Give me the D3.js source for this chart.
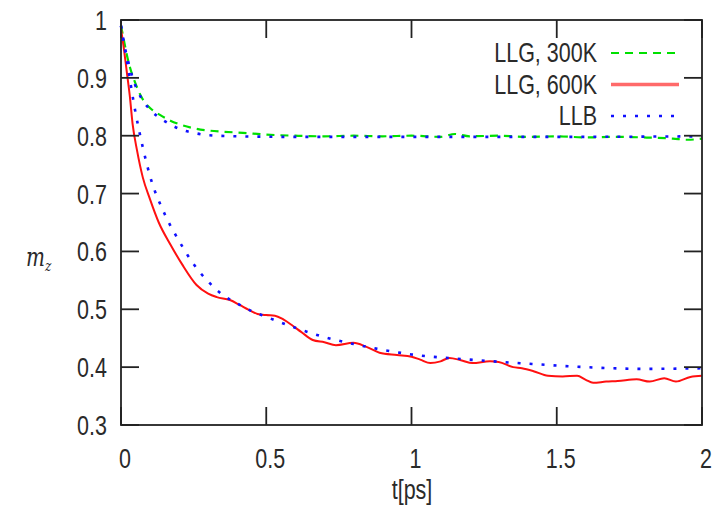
<!DOCTYPE html>
<html>
<head>
<meta charset="utf-8">
<script src="https://cdn.jsdelivr.net/npm/d3@7"></script>
<style>
  body { margin: 0; background: #fff; }
  text { font-family: "Liberation Sans", Arial, sans-serif; fill: #2a2a2a; }
</style>
</head>
<body>
<div id="vis"></div>
<script>
// Data: [t (ps), m_z]
const llg300 = [[0,0.99],[0.01,0.965],[0.02,0.94],[0.031,0.918],[0.05,0.89],[0.076,0.862],[0.1,0.848],
  [0.134,0.836],[0.17,0.826],[0.2,0.82],[0.25,0.813],[0.3,0.809],[0.35,0.807],[0.42,0.805],[0.5,0.802],
  [0.6,0.8],[0.7,0.799],[0.8,0.8],[0.9,0.799],[1.0,0.8],[1.1,0.798],[1.15,0.803],[1.2,0.799],[1.3,0.8],
  [1.4,0.798],[1.5,0.799],[1.6,0.797],[1.7,0.798],[1.8,0.797],[1.9,0.795],[1.95,0.793],[2.0,0.795]]

const llg600 = [[0,0.985],[0.01,0.95],[0.02,0.91],[0.03,0.87],[0.04,0.82],[0.055,0.775],[0.075,0.728],
  [0.1,0.69],[0.13,0.65],[0.17,0.612],[0.21,0.578],[0.26,0.542],[0.3,0.527],[0.33,0.521],[0.375,0.516],
  [0.41,0.507],[0.44,0.499],[0.47,0.492],[0.5,0.49],[0.53,0.489],[0.56,0.482],[0.59,0.472],[0.62,0.461],
  [0.66,0.447],[0.7,0.443],[0.74,0.438],[0.8,0.442],[0.845,0.435],[0.89,0.425],[0.95,0.421],[1.0,0.418],
  [1.03,0.413],[1.065,0.407],[1.1,0.41],[1.13,0.416],[1.17,0.412],[1.21,0.407],[1.27,0.41],[1.3,0.409],
  [1.35,0.4],[1.38,0.398],[1.42,0.393],[1.47,0.385],[1.52,0.384],[1.57,0.385],[1.6,0.378],[1.625,0.373],
  [1.67,0.375],[1.71,0.376],[1.775,0.379],[1.82,0.375],[1.87,0.381],[1.91,0.375],[1.96,0.383],[2.0,0.385]]

const llb300 = [[0,0.99],[0.01,0.96],[0.024,0.93],[0.04,0.9],[0.055,0.88],[0.076,0.86],[0.1,0.845],
  [0.145,0.827],[0.2,0.812],[0.25,0.805],[0.3,0.801],[0.4,0.799],[0.6,0.798],[1.0,0.798],[1.5,0.798],[2.0,0.799]]

const llb600 = [[0,0.99],[0.02,0.93],[0.05,0.84],[0.075,0.78],[0.1,0.73],[0.15,0.665],[0.2,0.618],
  [0.25,0.578],[0.3,0.548],[0.35,0.525],[0.4,0.51],[0.45,0.497],[0.5,0.487],[0.6,0.468],[0.7,0.452],
  [0.8,0.44],[0.9,0.43],[1.0,0.422],[1.2,0.413],[1.4,0.406],[1.6,0.4],[1.8,0.397],[2.0,0.398]]

const xTicks = [0, 0.5, 1, 1.5, 2]
const yTicks = [0.3, 0.4, 0.5, 0.6, 0.7, 0.8, 0.9, 1]
const legendNames = ["LLG, 300K", "LLG, 600K", "LLB"]

const width = 712, height = 516
const plot = {left: 121, right: 702, top: 20, bottom: 425}
const stretch = 1.27   // the text in the picture is tall and narrow

const x = d3.scaleLinear().domain([0, 2]).range([plot.left, plot.right])
const y = d3.scaleLinear().domain([0.3, 1]).range([plot.bottom, plot.top])

const svg = d3.select("#vis").append("svg")
    .attr("width", width)
    .attr("height", height)

function label(g, px, py, str, anchor) {
  return g.append("text")
    .attr("transform", `translate(${px},${py}) scale(1,${stretch})`)
    .attr("text-anchor", anchor)
    .style("font-size", "21.5px")
    .text(str)
}

// series
const line = d3.line().x(d => x(d[0])).y(d => y(d[1])).curve(d3.curveMonotoneX)
const styles = [
  {data: llg300, color: "#00e000", dash: "8,6", w: 2.2},
  {data: llg600, color: "#ff1010", dash: null, w: 2},
  {data: llb300, color: "#1010ff", dash: "3,9", w: 2.6},
  {data: llb600, color: "#1010ff", dash: "3,9", w: 2.6}
]
styles.forEach(s => {
  svg.append("path").datum(s.data)
    .attr("d", line)
    .attr("fill", "none")
    .attr("stroke", s.color)
    .attr("stroke-width", s.w)
    .attr("stroke-dasharray", s.dash)
})

// frame and inward ticks
const axes = svg.append("g").attr("stroke", "#222").attr("stroke-width", 1.8)
axes.append("rect")
  .attr("x", plot.left).attr("y", plot.top)
  .attr("width", plot.right - plot.left).attr("height", plot.bottom - plot.top)
  .attr("fill", "none")
const tl = 18
xTicks.forEach(t => {
  axes.append("line").attr("x1", x(t)).attr("x2", x(t)).attr("y1", plot.bottom).attr("y2", plot.bottom - tl)
  axes.append("line").attr("x1", x(t)).attr("x2", x(t)).attr("y1", plot.top).attr("y2", plot.top + tl)
})
yTicks.forEach(v => {
  axes.append("line").attr("x1", plot.left).attr("x2", plot.left + tl).attr("y1", y(v)).attr("y2", y(v))
  axes.append("line").attr("x1", plot.right).attr("x2", plot.right - tl).attr("y1", y(v)).attr("y2", y(v))
})

// tick labels
const labels = svg.append("g")
xTicks.forEach(t => label(labels, x(t) + 4, 468, d3.format("")(t), "middle"))
yTicks.forEach(v => label(labels, 107, y(v) + 10, d3.format("")(v), "end"))

// axis titles
label(labels, 412, 499, "t[ps]", "middle")
const my = svg.append("text")
  .attr("transform", `translate(26,266) scale(1,${stretch})`)
  .style("font-family", "'DejaVu Serif', serif")
  .style("font-style", "italic")
  .style("font-size", "20px")
my.append("tspan").text("m")
my.append("tspan").attr("dy", 4).style("font-size", "12px").text("z")

// legend
const legend = svg.append("g")
legendNames.forEach((name, i) => {
  const ly = 53 + i * 31.5
  label(legend, 597, ly + 9, name, "end")
  const s = styles[i]
  legend.append("line")
    .attr("x1", 611).attr("x2", 679).attr("y1", ly).attr("y2", ly)
    .attr("stroke", i === 1 ? "#ff6a6a" : s.color)
    .attr("stroke-width", i === 1 ? 3.5 : s.w)
    .attr("stroke-dasharray", s.dash)
})
</script>
</body>
</html>
